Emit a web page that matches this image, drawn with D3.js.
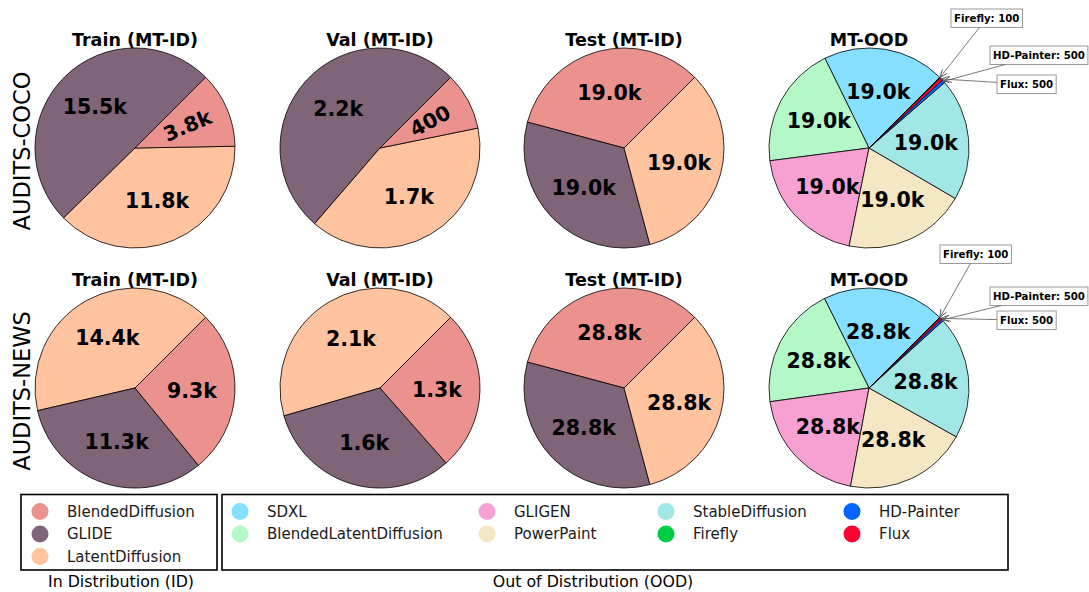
<!DOCTYPE html>
<html>
<head>
<meta charset="utf-8">
<script src="https://cdn.jsdelivr.net/npm/d3@7"></script>
<style>
    body { margin: 0; background: #fff; }
    svg { display: block; font-family: "DejaVu Sans", sans-serif; }
</style>
</head>
<body>
<svg id="chart" width="1089" height="592"></svg>
<script>
// Modelle + Farben (Legendenreihenfolge)
const idModels = ['BlendedDiffusion', 'GLIDE', 'LatentDiffusion'];
const idColors = ['#ec928e', '#7f6577', '#ffc3a0'];
const oodModels = ['SDXL', 'BlendedLatentDiffusion', 'GLIGEN', 'PowerPaint',
                   'StableDiffusion', 'Firefly', 'HD-Painter', 'Flux'];
const oodColors = ['#87dfff', '#b4f8c8', '#f7a1d2', '#f5e7c4',
                   '#a0e7e5', '#00cc44', '#0066ff', '#ff0033'];

const rowNames = ['AUDITS-COCO', 'AUDITS-NEWS'];
const splitTitles = ['Train (MT-ID)', 'Val (MT-ID)', 'Test (MT-ID)', 'MT-OOD'];

// Tortenreihenfolge (gegen Uhrzeigersinn ab 45 Grad)
const trainValOrderCoco = ['GLIDE', 'LatentDiffusion', 'BlendedDiffusion'];
const trainValOrderNews = ['LatentDiffusion', 'GLIDE', 'BlendedDiffusion'];
const testOrder = ['BlendedDiffusion', 'GLIDE', 'LatentDiffusion'];
const oodOrder = ['SDXL', 'BlendedLatentDiffusion', 'GLIGEN', 'PowerPaint',
                  'StableDiffusion', 'HD-Painter', 'Flux', 'Firefly'];

// Werte
const cocoTrain = [15500, 11800, 3800];
const cocoVal = [2200, 1700, 400];
const cocoTest = [19000, 19000, 19000];
const cocoOod = [19000, 19000, 19000, 19000, 19000, 500, 500, 100];
const newsTrain = [14400, 11300, 9300];
const newsVal = [2100, 1600, 1300];
const newsTest = [28800, 28800, 28800];
const newsOod = [28800, 28800, 28800, 28800, 28800, 500, 500, 100];

// kleine Segmente mit Beschriftungskasten
const annotated = ['Firefly', 'HD-Painter', 'Flux'];

// Layout
const R = 100;
const colX = [135, 380, 624, 869];
const rowY = [148, 388];
const START = 45 * Math.PI / 180;
// Kasten-Position (links oben) relativ zur Tortenmitte
const annotOffsets = [
    { 'Firefly': [82, -139], 'HD-Painter': [121, -102], 'Flux': [128, -73] },
    { 'Firefly': [71, -143], 'HD-Painter': [121, -101], 'Flux': [128, -77] }
];

const color = d3.scaleOrdinal()
    .domain(idModels.concat(oodModels))
    .range(idColors.concat(oodColors));

const pies = [
    { row: 0, col: 0, models: trainValOrderCoco, values: cocoTrain },
    { row: 0, col: 1, models: trainValOrderCoco, values: cocoVal },
    { row: 0, col: 2, models: testOrder, values: cocoTest },
    { row: 0, col: 3, models: oodOrder, values: cocoOod },
    { row: 1, col: 0, models: trainValOrderNews, values: newsTrain },
    { row: 1, col: 1, models: trainValOrderNews, values: newsVal },
    { row: 1, col: 2, models: testOrder, values: newsTest },
    { row: 1, col: 3, models: oodOrder, values: newsOod }
];

const svg = d3.select('#chart');

svg.append('defs').append('marker')
    .attr('id', 'arrow')
    .attr('viewBox', '0 0 10 10')
    .attr('refX', 10).attr('refY', 5)
    .attr('markerUnits', 'userSpaceOnUse')
    .attr('markerWidth', 8).attr('markerHeight', 8)
    .attr('orient', 'auto')
    .append('path')
    .attr('d', 'M0,1 L10,5 L0,9')
    .attr('fill', 'none')
    .attr('stroke', '#555')
    .attr('stroke-width', 1.1);

const fmt = v => v >= 1000 ? (v / 1000).toFixed(1) + 'k' : String(v);

const arc = d3.arc().innerRadius(0).outerRadius(R);
const pieGen = d3.pie()
    .sort(null)
    .value(d => d.value)
    .startAngle(Math.PI / 2 - START)
    .endAngle(Math.PI / 2 - START - 2 * Math.PI);

pies.forEach(p => {
    const cx = colX[p.col], cy = rowY[p.row];
    const g = svg.append('g').attr('transform', `translate(${cx},${cy})`);
    const data = p.models.map((m, i) => ({ model: m, value: p.values[i] }));
    const total = d3.sum(p.values);
    const arcs = pieGen(data);

    g.selectAll('path.slice')
        .data(arcs)
        .join('path')
        .attr('class', 'slice')
        .attr('d', arc)
        .attr('fill', d => color(d.data.model))
        .attr('stroke', '#000')
        .attr('stroke-width', 0.8)
        .attr('stroke-linejoin', 'round');

    // Titel
    g.append('text')
        .attr('x', 0).attr('y', -102)
        .attr('text-anchor', 'middle')
        .style('font-weight', 'bold')
        .style('font-size', '17.5px')
        .text(splitTitles[p.col]);

    // Werte im Segment
    arcs.filter(d => !annotated.includes(d.data.model)).forEach(d => {
        const mid = (d.startAngle + d.endAngle) / 2;
        const lr = R * 0.57;
        const x = lr * Math.sin(mid), y = -lr * Math.cos(mid);
        let rot = 0;
        if (d.value / total < 0.15) {
            rot = 90 - mid * 180 / Math.PI;
            rot = ((rot % 360) + 360) % 360;
            if (rot > 90 && rot < 270) rot -= 180;
            if (rot >= 270) rot -= 360;
        }
        g.append('text')
            .attr('transform', `translate(${x},${y}) rotate(${-rot})`)
            .attr('text-anchor', 'middle')
            .attr('dominant-baseline', 'central')
            .style('font-weight', 'bold')
            .style('font-size', '20.5px')
            .text(fmt(d.value));
    });

    // Beschriftungskaesten fuer kleine Segmente
    arcs.filter(d => annotated.includes(d.data.model)).forEach(d => {
        const mid = (d.startAngle + d.endAngle) / 2;
        const tx = R * Math.sin(mid), ty = -R * Math.cos(mid);
        const off = annotOffsets[p.row][d.data.model];
        const box = g.append('g');
        const t = box.append('text')
            .attr('x', off[0] + 3)
            .attr('y', off[1] + 9)
            .attr('dominant-baseline', 'central')
            .style('font-weight', 'bold')
            .style('font-size', '10.2px')
            .text(`${d.data.model}: ${d.value}`);
        const bb = t.node().getBBox();
        const bw = bb.width + 6, bh = 18.5;
        box.insert('rect', 'text')
            .attr('x', off[0]).attr('y', off[1])
            .attr('width', bw).attr('height', bh)
            .attr('fill', '#fff')
            .attr('stroke', '#999')
            .attr('stroke-width', 1);
        // Start am Kastenrand auf der Linie Mitte -> Spitze
        const bx = off[0] + bw / 2, by = off[1] + bh / 2;
        const dx = tx - bx, dy = ty - by;
        const s = Math.min(Math.abs((bw / 2) / dx), Math.abs((bh / 2) / dy));
        g.append('line')
            .attr('x1', bx + dx * s).attr('y1', by + dy * s)
            .attr('x2', tx).attr('y2', ty)
            .attr('stroke', '#555')
            .attr('stroke-width', 0.8)
            .attr('marker-end', 'url(#arrow)');
    });
});

// Zeilenbeschriftung
rowNames.forEach((name, i) => {
    svg.append('text')
        .attr('transform', `translate(30,${rowY[i] + 3}) rotate(-90)`)
        .attr('text-anchor', 'middle')
        .style('font-size', '22.5px')
        .text(name);
});

// Legenden
const legendRows = [511.5, 534, 556.5];
svg.append('rect')
    .attr('x', 21).attr('y', 494.5).attr('width', 196).attr('height', 75.5)
    .attr('fill', 'none').attr('stroke', '#000').attr('stroke-width', 1.6);
svg.append('rect')
    .attr('x', 222).attr('y', 494.5).attr('width', 786).attr('height', 75.5)
    .attr('fill', 'none').attr('stroke', '#000').attr('stroke-width', 1.6);

function legendItem(x, y, model) {
    svg.append('circle')
        .attr('cx', x).attr('cy', y).attr('r', 8.5)
        .attr('fill', color(model));
    svg.append('text')
        .attr('x', x + 27).attr('y', y)
        .attr('dominant-baseline', 'central')
        .style('font-size', '15px')
        .style('fill', '#1a1a1a')
        .text(model);
}

idModels.forEach((m, i) => legendItem(40, legendRows[i], m));
const oodColX = [240, 487, 666, 852];
oodModels.forEach((m, i) => legendItem(oodColX[Math.floor(i / 2)], legendRows[i % 2], m));

svg.append('text')
    .attr('x', 121).attr('y', 587)
    .attr('text-anchor', 'middle')
    .style('font-size', '15.8px')
    .text('In Distribution (ID)');
svg.append('text')
    .attr('x', 593).attr('y', 587)
    .attr('text-anchor', 'middle')
    .style('font-size', '15.8px')
    .text('Out of Distribution (OOD)');
</script>
</body>
</html>
